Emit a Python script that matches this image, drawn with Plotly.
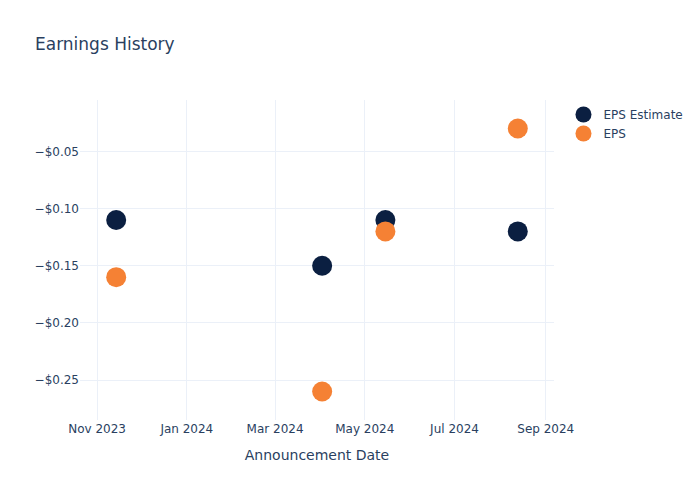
import plotly.graph_objects as go

dates = ["2023-11-14", "2024-04-02", "2024-05-15", "2024-08-13"]
eps_estimate = [-0.11, -0.15, -0.11, -0.12]
eps_actual = [-0.16, -0.26, -0.12, -0.03]

fig = go.Figure()
fig.add_trace(go.Scatter(x=dates, y=eps_estimate, mode="markers", name="EPS Estimate",
                         marker=dict(color="#0b1f41", size=20)))
fig.add_trace(go.Scatter(x=dates, y=eps_actual, mode="markers", name="EPS",
                         marker=dict(color="#f58134", size=20)))
fig.update_layout(
    template="plotly_white",
    width=700, height=500,
    font=dict(family="DejaVu Sans"),
    title=dict(text="Earnings History"),
    xaxis=dict(title=dict(text="Announcement Date")),
    yaxis=dict(tickformat="$.2f"),
)
fig.write_html("out.html")
